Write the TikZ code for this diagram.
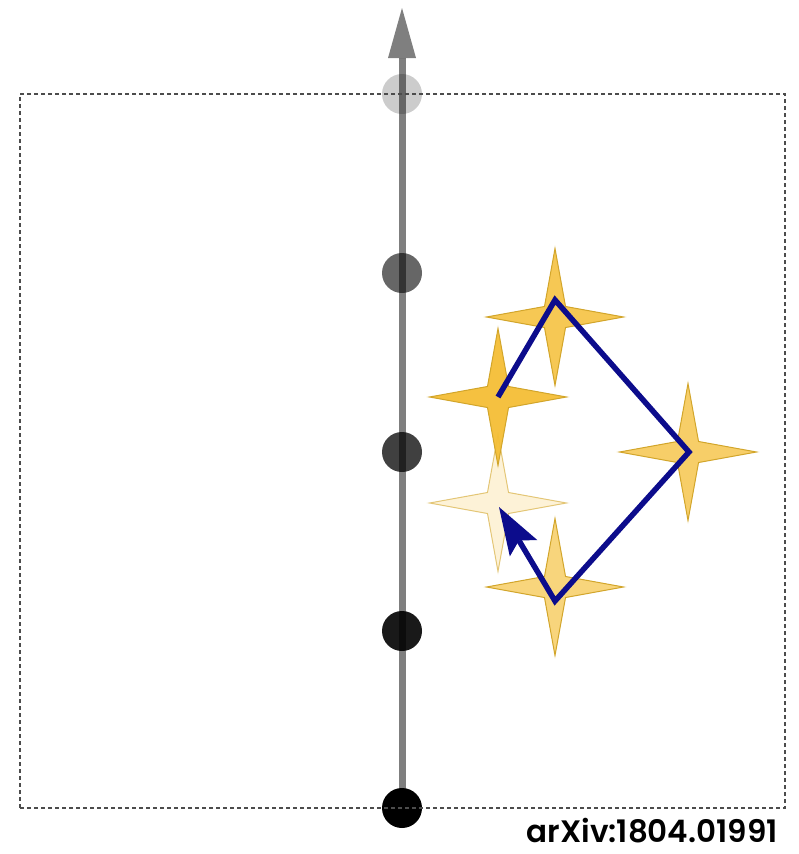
\documentclass[tikz,border=0pt]{standalone}
\usepackage{fontspec}
\newfontfamily\labelfont{Poppins SemiBold}
\usetikzlibrary{shapes.geometric,arrows.meta}
\definecolor{gold}{HTML}{F4BE36}
\definecolor{goldedge}{HTML}{D2A52A}
\definecolor{navy}{HTML}{0C0C8C}
\tikzset{
  dot/.style={circle,fill=black,minimum size=40pt,inner sep=0pt},
  sparkle/.style={star,star points=4,star point ratio=4.6,minimum size=137pt,inner sep=0pt,
    fill=gold,draw=goldedge,line width=1pt},
  frame/.style={draw=black!70,dashed,dash pattern=on 4pt off 3pt,line width=1.3pt},
  axis/.style={draw=black,opacity=0.5,line width=7pt,
    -{Triangle[length=50pt,width=28pt,line width=0pt]}},
  walk/.style={draw=navy,line width=5.5pt,line join=miter,
    -{Stealth[length=48pt,width=32pt,inset=9pt,line width=0pt]}},
}
\begin{document}
\begin{tikzpicture}[x=1pt,y=-1pt]
\useasboundingbox (0,0) rectangle (798,854);
% dots on the axis
\node[dot,fill opacity=0.2] (d4) at (402,94) {};
\node[dot,fill opacity=0.6] (d3) at (402,273) {};
\node[dot,fill opacity=0.75] (d2) at (402,452) {};
\node[dot,fill opacity=0.9] (d1) at (402,631) {};
\node[dot] (d0) at (402,808) {};
\coordinate (top) at (402,8);
\draw[axis] (d0.center) -- (top);
% frame
\node[frame,minimum width=765pt,minimum height=714pt,inner sep=0pt] (box) at (402.5,451) {};
% stars
\node[sparkle,fill opacity=0.2,draw opacity=0.6] (s5) at (498,503) {};
\node[sparkle,fill opacity=0.65] (s4) at (555,587) {};
\node[sparkle,fill opacity=0.75] (s3) at (688,452) {};
\node[sparkle,fill opacity=0.85] (s2) at (555,317) {};
\node[sparkle,fill opacity=0.95] (s1) at (498,397) {};
% walk
\coordinate (w1) at (498,397);
\coordinate (w2) at (555,300);
\coordinate (w3) at (689,452);
\coordinate (w4) at (555,601);
\coordinate (w5) at (499,507);
\draw[walk] (w1) -- (w2) -- (w3) -- (w4) -- (w5);
% label
\node[anchor=base east,font=\labelfont\fontsize{31}{32}\selectfont,inner sep=0pt,text depth=0pt] (lab) at (778,842) {arXiv:1804.01991};
\end{tikzpicture}
\end{document}
